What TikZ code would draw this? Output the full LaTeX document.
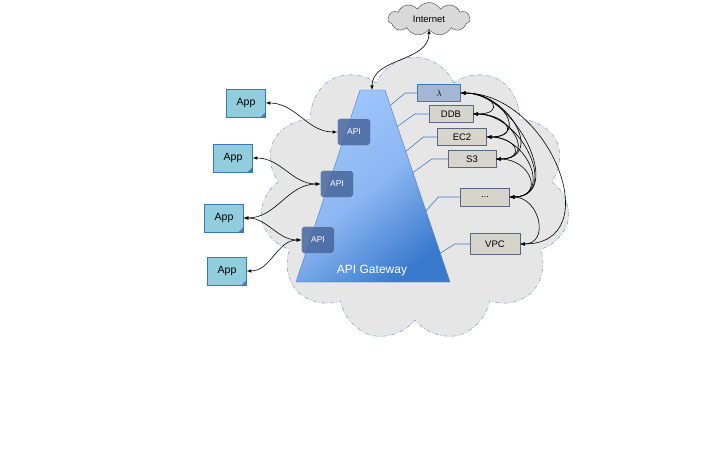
\documentclass[tikz,border=0pt]{standalone}
\usepackage{amssymb}
\usepackage{amsmath}
\usepackage{color}
\usepackage{fontspec}
\setsansfont{Liberation Sans}
\usetikzlibrary{shapes.symbols,calc}
\definecolor{cloudgray}{RGB}{230,230,230}
\definecolor{cloudline}{RGB}{95,140,205}
\definecolor{gwlight}{RGB}{160,198,252}
\definecolor{gwdark}{RGB}{58,122,205}
\definecolor{gwline}{RGB}{72,122,196}
\definecolor{apibox}{RGB}{72,102,158}
\definecolor{appfill}{RGB}{146,205,221}
\definecolor{appline}{RGB}{58,118,190}
\definecolor{lamfill}{RGB}{163,182,212}
\definecolor{svcfill}{RGB}{215,213,203}
\definecolor{svcline}{RGB}{88,104,132}
\definecolor{netgray}{RGB}{217,217,217}
\begin{document}
\begin{tikzpicture}[x=1pt, y=-1pt, font=\sffamily, >=latex, line width=0.6pt,
                aws/.style = {cloud, cloud puffs=11, cloud puff arc=135, aspect=1.1, draw=cloudline, thin, fill=cloudgray, dash pattern=on 4pt off 2pt on 0.8pt off 2pt, minimum width=310pt, minimum height=284pt},
                net/.style = {cloud, cloud puffs=11, cloud puff arc=120, aspect=2.6, draw=black!75, thin, fill=netgray, minimum width=82pt, minimum height=33pt, inner sep=0pt, font=\sffamily\fontsize{9.5}{11}\selectfont},
                gw/.style = {draw=gwline, thin, top color=gwlight, bottom color=gwdark, middle color=gwlight!80!gwdark, shading angle=40},
                gwtext/.style = {text=white, font=\sffamily\fontsize{12}{14}\selectfont},
                app/.style = {draw=appline, thin, fill=appfill, minimum width=39pt, minimum height=28pt, inner sep=0pt, font=\sffamily\fontsize{10.5}{12}\selectfont, path picture={\fill[appline!55!gray] (path picture bounding box.south east) -- ++(-5pt,0pt) -- ++(5pt,5pt) -- cycle;}},
                api/.style = {draw=white!75!apibox, thin, fill=apibox, fill opacity=0.85, text opacity=1, text=white, rounded corners=3pt, minimum width=33pt, minimum height=27pt, inner sep=0pt, font=\sffamily\fontsize{8.5}{10}\selectfont},
                svc/.style = {draw=svcline, thin, fill=svcfill, minimum height=17pt, inner sep=0pt, font=\sffamily\fontsize{9.5}{11}\selectfont},
                lam/.style = {svc, draw=appline, fill=lamfill},
                link/.style = {gwline, line width=0.6pt}]
                \useasboundingbox (0,0) rectangle (720,450);
                \node[aws] (aws) at (415,199) {};
                \node[net] (net) at (429,19) {Internet};
                \coordinate (gbl) at (296,282);
                \coordinate (gtl) at (360,90);
                \coordinate (gtr) at (385,90);
                \coordinate (gbr) at (450,282);
                \coordinate (gtop) at (372,90);
                \path[gw] (gbl) -- (gtl) -- (gtr) -- (gbr) -- cycle;
                \node[gwtext] (gwl) at (372,271) {API Gateway};
                \node[app] (a0) at (246,103) {App};
                \node[app] (a1) at (233,158) {App};
                \node[app] (a2) at (224,218) {App};
                \node[app] (a3) at (227,271) {App};
                \node[api] (p0) at (354,132) {API};
                \node[api] (p1) at (337,184) {API};
                \node[api] (p2) at (318,240) {API};
                \node[lam, minimum width=43pt] (s0) at (439,93) {$\lambda$};
                \node[svc, minimum width=44pt] (s1) at (451,114) {DDB};
                \node[svc, minimum width=49pt] (s2) at (462,137) {EC2};
                \node[svc, minimum width=48pt] (s3) at (472,159) {S3};
                \node[svc, minimum width=49pt, minimum height=18pt] (s4) at (485,197) {...};
                \node[svc, minimum width=50pt, minimum height=21pt] (s5) at (495,244) {VPC};
                \draw[<->] (net.south) to[out=-90, in=90] (gtop);
                \draw[<->] (a0.east) to[out=0, in=180] (p0.west);
                \draw[<->] (a1.east) to[out=0, in=180] (p1.west);
                \draw[<->] (a2.east) to[out=0, in=180] (p1.west);
                \draw[<->] (a2.east) to[out=0, in=180] (p2.west);
                \draw[<->] (a3.east) to[out=0, in=180] (p2.west);
                \draw[link] (s0.west) -- ++(-12,0) -- ($(gtr)!0.08!(gbr)$);
                \draw[link] (s1.west) -- ++(-14,0) -- ($(gtr)!0.19!(gbr)$);
                \draw[link] (s2.west) -- ++(-14,0) -- ($(gtr)!0.32!(gbr)$);
                \draw[link] (s3.west) -- ++(-16,0) -- ($(gtr)!0.43!(gbr)$);
                \draw[link] (s4.west) -- ++(-22,0) -- ($(gtr)!0.63!(gbr)$);
                \draw[link] (s5.west) -- ++(-15,0) -- ($(gtr)!0.85!(gbr)$);
                \draw[<->] (s0.east) .. controls +(33,0) and +(33,0) .. (s1.east);
                \draw[<->] (s0.east) .. controls +(42,0) and +(42,0) .. (s2.east);
                \draw[<->] (s0.east) .. controls +(49,0) and +(49,0) .. (s3.east);
                \draw[<->] (s0.east) .. controls +(56,0) and +(56,0) .. (s4.east);
                \draw[<->] (s0.east) .. controls +(89,0) and +(89,0) .. (s5.east);
                \draw[<->] (s1.east) .. controls +(34,0) and +(34,0) .. (s2.east);
                \draw[<->] (s1.east) .. controls +(40,0) and +(40,0) .. (s3.east);
                \draw[<->] (s1.east) .. controls +(50,0) and +(50,0) .. (s4.east);
                \draw[<->] (s2.east) .. controls +(30,0) and +(30,0) .. (s3.east);
                \draw[<->] (s2.east) .. controls +(42,0) and +(42,0) .. (s4.east);
                \draw[<->] (s3.east) .. controls +(35,0) and +(35,0) .. (s4.east);
                \draw[<->] (s4.east) .. controls +(30,0) and +(30,0) .. (s5.east);
            \end{tikzpicture}
\end{document}
